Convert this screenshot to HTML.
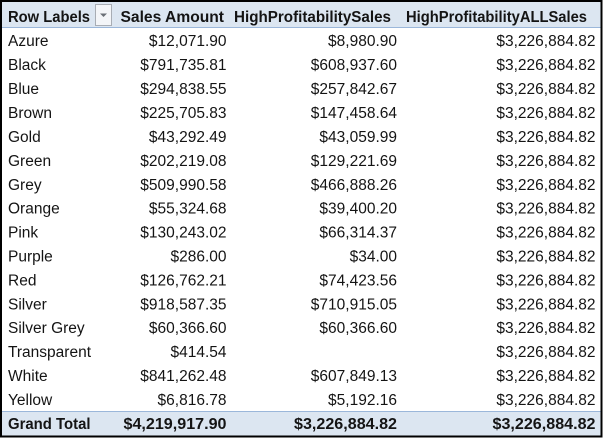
<!DOCTYPE html>
<html>
<head>
<meta charset="utf-8">
<style>
  html,body{margin:0;padding:0;background:#fff;}
  body{width:604px;height:439px;overflow:hidden;}
  svg{display:block;}
  text{font-family:"Liberation Sans",Arial,sans-serif;font-size:15.5px;fill:#141414;}
  .b{font-weight:bold;font-size:16px;}
  .r{text-anchor:end;}
</style>
</head>
<body>
<svg width="604" height="439" viewBox="0 0 604 439" xmlns="http://www.w3.org/2000/svg">
  <rect x="0" y="0" width="604" height="439" fill="#fff"/>
  <!-- header band -->
  <rect x="2" y="2" width="599" height="25.5" fill="#dce6f1"/>
  <line x1="2" y1="27.5" x2="601" y2="27.5" stroke="#9bb7da" stroke-width="1"/>
  <!-- grand total band -->
  <rect x="2" y="411.5" width="599" height="25" fill="#dce6f1"/>
  <line x1="2" y1="411.5" x2="601" y2="411.5" stroke="#9bb7da" stroke-width="1"/>
  <!-- outer border -->
  <rect x="1" y="1" width="600.5" height="435.5" fill="none" stroke="#000" stroke-width="2"/>

  <!-- header -->
  <text class="b" x="8" y="22" textLength="82" lengthAdjust="spacingAndGlyphs">Row Labels</text>
  <rect x="95.5" y="4.5" width="16" height="21" fill="#f3f5f8" stroke="#a8adb4" stroke-width="1"/>
  <polygon points="100,13.5 107,13.5 103.5,17" fill="#6a6f76"/>
  <text class="b" x="120.5" y="22" textLength="103.5" lengthAdjust="spacingAndGlyphs">Sales Amount</text>
  <text class="b" x="234" y="22" textLength="157" lengthAdjust="spacingAndGlyphs">HighProfitabilitySales</text>
  <text class="b" x="406" y="22" textLength="181" lengthAdjust="spacingAndGlyphs">HighProfitabilityALLSales</text>

  <!-- rows -->
  <g>
    <text x="8" y="46">Azure</text><text class="r" x="226.5" y="46">$12,071.90</text><text class="r" x="397" y="46">$8,980.90</text><text class="r" x="595.5" y="46">$3,226,884.82</text>
    <text x="8" y="70">Black</text><text class="r" x="226.5" y="70">$791,735.81</text><text class="r" x="397" y="70">$608,937.60</text><text class="r" x="595.5" y="70">$3,226,884.82</text>
    <text x="8" y="94">Blue</text><text class="r" x="226.5" y="94">$294,838.55</text><text class="r" x="397" y="94">$257,842.67</text><text class="r" x="595.5" y="94">$3,226,884.82</text>
    <text x="8" y="118">Brown</text><text class="r" x="226.5" y="118">$225,705.83</text><text class="r" x="397" y="118">$147,458.64</text><text class="r" x="595.5" y="118">$3,226,884.82</text>
    <text x="8" y="142">Gold</text><text class="r" x="226.5" y="142">$43,292.49</text><text class="r" x="397" y="142">$43,059.99</text><text class="r" x="595.5" y="142">$3,226,884.82</text>
    <text x="8" y="166">Green</text><text class="r" x="226.5" y="166">$202,219.08</text><text class="r" x="397" y="166">$129,221.69</text><text class="r" x="595.5" y="166">$3,226,884.82</text>
    <text x="8" y="190">Grey</text><text class="r" x="226.5" y="190">$509,990.58</text><text class="r" x="397" y="190">$466,888.26</text><text class="r" x="595.5" y="190">$3,226,884.82</text>
    <text x="8" y="213.5">Orange</text><text class="r" x="226.5" y="213.5">$55,324.68</text><text class="r" x="397" y="213.5">$39,400.20</text><text class="r" x="595.5" y="213.5">$3,226,884.82</text>
    <text x="8" y="237.5">Pink</text><text class="r" x="226.5" y="237.5">$130,243.02</text><text class="r" x="397" y="237.5">$66,314.37</text><text class="r" x="595.5" y="237.5">$3,226,884.82</text>
    <text x="8" y="261.5">Purple</text><text class="r" x="226.5" y="261.5">$286.00</text><text class="r" x="397" y="261.5">$34.00</text><text class="r" x="595.5" y="261.5">$3,226,884.82</text>
    <text x="8" y="285.5">Red</text><text class="r" x="226.5" y="285.5">$126,762.21</text><text class="r" x="397" y="285.5">$74,423.56</text><text class="r" x="595.5" y="285.5">$3,226,884.82</text>
    <text x="8" y="309.5">Silver</text><text class="r" x="226.5" y="309.5">$918,587.35</text><text class="r" x="397" y="309.5">$710,915.05</text><text class="r" x="595.5" y="309.5">$3,226,884.82</text>
    <text x="8" y="333">Silver Grey</text><text class="r" x="226.5" y="333">$60,366.60</text><text class="r" x="397" y="333">$60,366.60</text><text class="r" x="595.5" y="333">$3,226,884.82</text>
    <text x="8" y="357">Transparent</text><text class="r" x="226.5" y="357">$414.54</text><text class="r" x="595.5" y="357">$3,226,884.82</text>
    <text x="8" y="381">White</text><text class="r" x="226.5" y="381">$841,262.48</text><text class="r" x="397" y="381">$607,849.13</text><text class="r" x="595.5" y="381">$3,226,884.82</text>
    <text x="8" y="405">Yellow</text><text class="r" x="226.5" y="405">$6,816.78</text><text class="r" x="397" y="405">$5,192.16</text><text class="r" x="595.5" y="405">$3,226,884.82</text>
  </g>

  <!-- grand total -->
  <text class="b" x="8" y="429" textLength="82.5" lengthAdjust="spacingAndGlyphs">Grand Total</text>
  <text class="b r" x="226.5" y="429" textLength="103" lengthAdjust="spacingAndGlyphs">$4,219,917.90</text>
  <text class="b r" x="397" y="429" textLength="103" lengthAdjust="spacingAndGlyphs">$3,226,884.82</text>
  <text class="b r" x="595.5" y="429" textLength="103" lengthAdjust="spacingAndGlyphs">$3,226,884.82</text>
</svg>
</body>
</html>
